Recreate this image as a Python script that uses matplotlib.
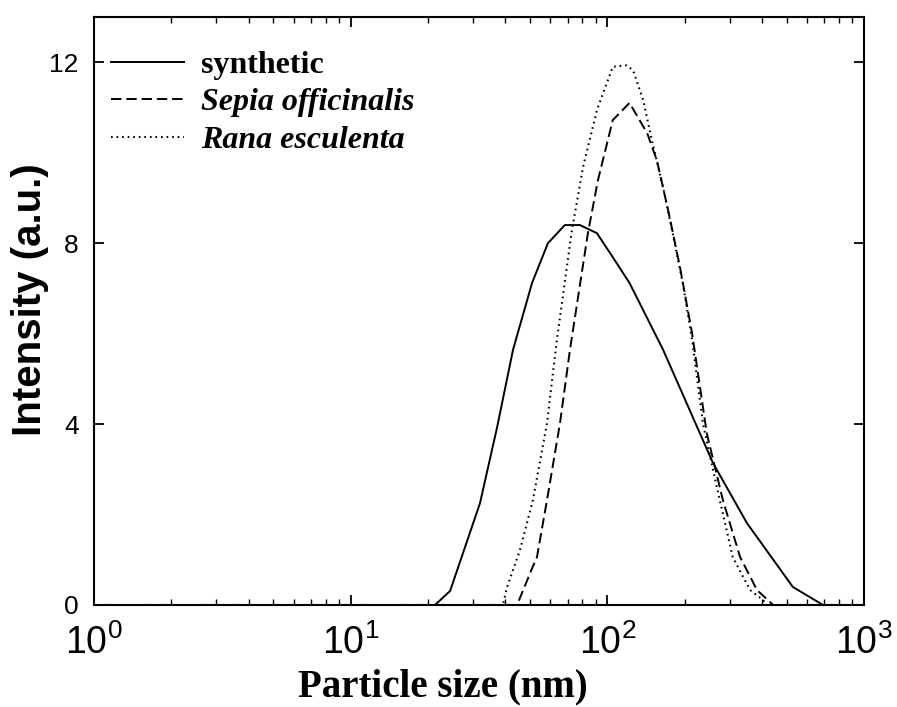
import matplotlib
matplotlib.use("Agg")
import matplotlib.pyplot as plt
from matplotlib.ticker import LogLocator, FixedLocator, NullLocator

plt.rcParams['font.family'] = ['Liberation Sans', 'DejaVu Sans']
plt.rcParams['mathtext.fontset'] = 'custom'
plt.rcParams['mathtext.rm'] = 'Liberation Sans'
plt.rcParams['mathtext.it'] = 'Liberation Sans:italic'
plt.rcParams['mathtext.bf'] = 'Liberation Sans:bold'
plt.rcParams['lines.scale_dashes'] = False

# ---- data ----
synthetic_x = [1, 21.3, 24.4, 27.4, 31.9, 37.2, 42.9, 50.9, 58.7, 68.3, 78.2, 91.1,
               105, 122, 165, 258, 350, 528, 692, 1000]
synthetic_y = [0, 0, 0.31, 1.15, 2.25, 3.93, 5.64, 7.12, 8.0, 8.40, 8.40, 8.22,
               7.69, 7.12, 5.64, 3.14, 1.81, 0.40, 0, 0]

sepia_x = [1, 44.5, 50.9, 53.2, 58.2, 65.4, 71.5, 84.0, 91.9, 105, 122, 143, 156,
           175, 192, 214, 244, 282, 329, 383, 422, 442, 1000]
sepia_y = [0, 0, 0.81, 1.06, 2.32, 4.02, 5.64, 8.22, 9.39, 10.72, 11.1, 10.43, 9.83,
           8.57, 7.46, 6.0, 3.80, 2.32, 1.06, 0.33, 0.11, 0, 0]

rana_x = [1, 39.2, 40.6, 45.7, 51.3, 58.2, 63.6, 72.8, 80.4, 91.1, 105, 119, 126,
          138, 149, 165, 180, 197, 214, 236, 268, 308, 360, 404, 419, 1000]
rana_y = [0, 0, 0.38, 1.22, 2.32, 4.02, 5.86, 8.29, 9.68, 10.94, 11.9, 11.93, 11.82,
          11.16, 10.28, 9.23, 8.2, 7.1, 5.86, 4.0, 2.57, 1.06, 0.33, 0.11, 0, 0]

labels = ["synthetic", "Sepia officinalis", "Rana esculenta"]
y_ticks = [0, 4, 8, 12]

fig = plt.figure(figsize=(8.97, 7.07), dpi=100)
ax = fig.add_axes([94/897, 1-605/707, 770/897, 588/707])

ax.plot(synthetic_x, synthetic_y, color='black', lw=1.4, linestyle='-', label=labels[0])
ax.plot(sepia_x, sepia_y, color='black', lw=1.4, linestyle=(0, (7.5, 3.5)), label=labels[1])
ax.plot(rana_x, rana_y, color='black', lw=1.5, linestyle=(0, (1.2, 2.8)), label=labels[2])

ax.set_xscale('log')
ax.set_xlim(1, 1000)
ax.set_ylim(0, 13)
ax.xaxis.set_major_locator(LogLocator(base=10, numticks=10))
ax.xaxis.set_minor_locator(LogLocator(base=10, subs=range(2, 10), numticks=20))
ax.yaxis.set_major_locator(FixedLocator(y_ticks))
ax.yaxis.set_minor_locator(NullLocator())

for s in ax.spines.values():
    s.set_linewidth(1.5)

ax.tick_params(axis='x', which='major', direction='in', top=True, bottom=True,
               length=7, width=1.3, labelsize=27, pad=14)
ax.tick_params(axis='x', which='minor', direction='in', top=True, bottom=True,
               length=4, width=1.0)
ax.tick_params(axis='y', which='major', direction='in', left=True, right=True,
               length=7, width=1.3, labelsize=19, pad=11)

ax.set_xlabel("Particle size (nm)", fontfamily='Liberation Serif', fontweight='bold',
              fontsize=28)
ax.xaxis.set_label_coords(0.453, -0.108)
ax.set_ylabel("Intensity (a.u.)", fontfamily='Liberation Sans', fontweight='bold',
              fontsize=29)
ax.yaxis.set_label_coords(-0.058, 0.519)

leg = ax.legend(loc='upper left', bbox_to_anchor=(0.009, 0.959), frameon=False,
                prop={'family': 'Liberation Serif', 'weight': 'bold', 'size': 23},
                handlelength=2.3, handletextpad=0.52, labelspacing=0.25,
                borderaxespad=0.0, borderpad=0.3)
for t in leg.get_texts()[1:]:
    t.set_fontstyle('italic')

fig.savefig("out.png", dpi=100)
